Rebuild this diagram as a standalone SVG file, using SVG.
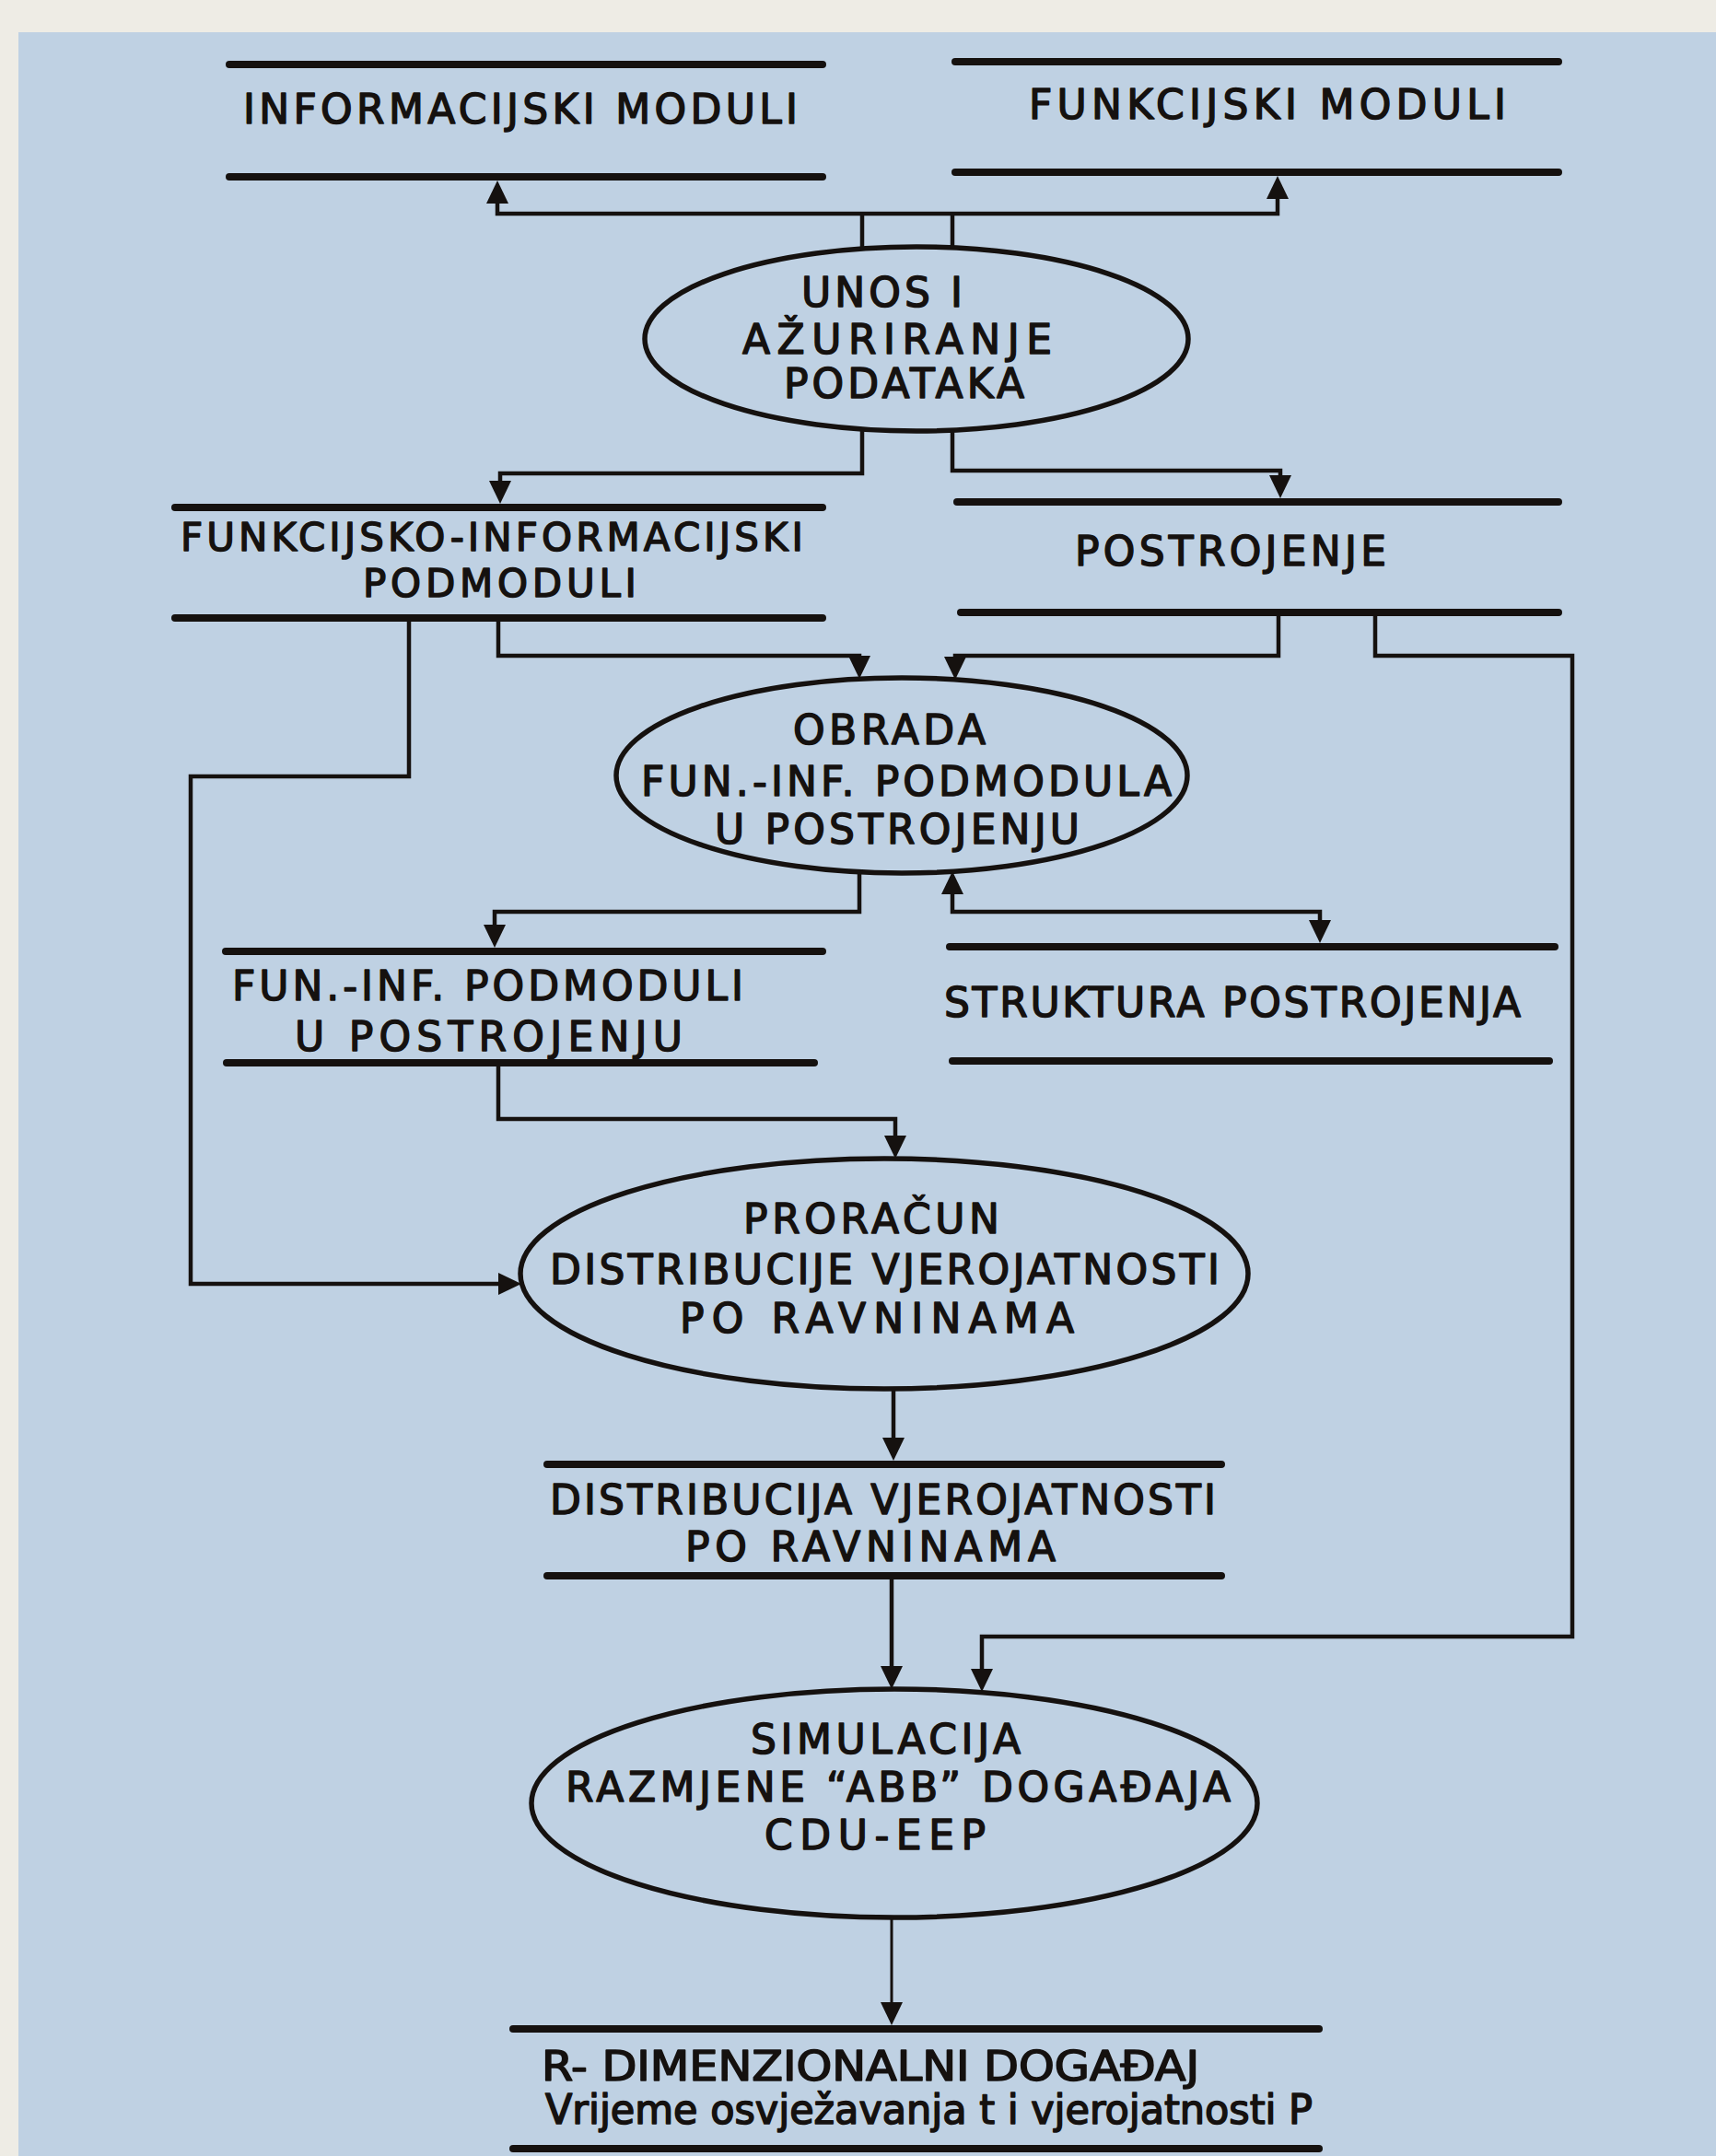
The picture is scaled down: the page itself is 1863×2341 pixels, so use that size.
<svg xmlns="http://www.w3.org/2000/svg" width="1863" height="2341" viewBox="0 0 1863 2341">
<style>
.bg{fill:#eeece5}
.panel{fill:#bfd1e3}
.st{stroke:#15110f;stroke-width:8;stroke-linecap:round;fill:none}
.el{stroke:#15110f;stroke-width:5.5;fill:none}
.t{font-family:"DejaVu Sans",sans-serif;font-size:44px;fill:#15110f;stroke:#15110f;stroke-width:1.5;stroke-linejoin:round}
.ts{font-size:42px}
.tc{font-family:"DejaVu Sans Condensed","DejaVu Sans",sans-serif;font-stretch:condensed;font-size:44px;fill:#15110f;stroke:#15110f;stroke-width:1.5;stroke-linejoin:round}
.c{stroke:#15110f;stroke-width:4.5;fill:none;stroke-linejoin:miter;stroke-linecap:butt}
.cs{stroke:#15110f;stroke-width:3;fill:none}
</style>
<defs>
<marker id="ah" viewBox="0 -13 28 26" refX="17" refY="0" markerWidth="28" markerHeight="26" markerUnits="userSpaceOnUse" orient="auto-start-reverse">
<path d="M0,-12 L25,0 L0,12 Z" fill="#15110f"/>
</marker>
</defs>
<rect class="bg" x="0" y="0" width="1863" height="2341"/>
<rect class="panel" x="20" y="35" width="1843" height="2306"/>

<g id="informacijski-moduli">
<line class="st" x1="249" y1="70" x2="893" y2="70"/>
<line class="st" x1="249" y1="192" x2="893" y2="192"/>
<text class="t" x="264" y="134" textLength="602" lengthAdjust="spacing">INFORMACIJSKI MODULI</text>
</g>

<g id="funkcijski-moduli">
<line class="st" x1="1037" y1="67" x2="1692" y2="67"/>
<line class="st" x1="1037" y1="187" x2="1692" y2="187"/>
<text class="t" x="1117" y="129" textLength="518" lengthAdjust="spacing">FUNKCIJSKI MODULI</text>
</g>

<g id="unos">
<ellipse class="el" cx="995" cy="368" rx="295" ry="100"/>
<text class="t" x="870" y="333" textLength="175" lengthAdjust="spacing">UNOS I</text>
<text class="t" x="806" y="384" textLength="336" lengthAdjust="spacing">AŽURIRANJE</text>
<text class="t" x="851" y="432" textLength="261" lengthAdjust="spacing">PODATAKA</text>
</g>

<g id="fun-inf-podmoduli">
<line class="st" x1="190" y1="551" x2="893" y2="551"/>
<line class="st" x1="190" y1="671" x2="893" y2="671"/>
<text class="t ts" x="196" y="598" textLength="676" lengthAdjust="spacing">FUNKCIJSKO-INFORMACIJSKI</text>
<text class="t ts" x="394" y="648" textLength="297" lengthAdjust="spacing">PODMODULI</text>
</g>

<g id="postrojenje">
<line class="st" x1="1039" y1="545" x2="1692" y2="545"/>
<line class="st" x1="1043" y1="665" x2="1692" y2="665"/>
<text class="t" x="1167" y="614" textLength="338" lengthAdjust="spacing">POSTROJENJE</text>
</g>

<g id="obrada">
<ellipse class="el" cx="979" cy="842" rx="310" ry="106"/>
<text class="t" x="861" y="808" textLength="209" lengthAdjust="spacing">OBRADA</text>
<text class="t" x="696" y="864" textLength="576" lengthAdjust="spacing">FUN.-INF. PODMODULA</text>
<text class="t" x="776" y="916" textLength="396" lengthAdjust="spacing">U POSTROJENJU</text>
</g>

<g id="fun-inf-u-postrojenju">
<line class="st" x1="245" y1="1033" x2="893" y2="1033"/>
<line class="st" x1="246" y1="1154" x2="884" y2="1154"/>
<text class="t" x="252" y="1086" textLength="555" lengthAdjust="spacing">FUN.-INF. PODMODULI</text>
<text class="t" x="320" y="1141" textLength="421" lengthAdjust="spacing">U POSTROJENJU</text>
</g>

<g id="struktura-postrojenja">
<line class="st" x1="1031" y1="1028" x2="1688" y2="1028"/>
<line class="st" x1="1034" y1="1152" x2="1682" y2="1152"/>
<text class="t" x="1025" y="1104" textLength="626" lengthAdjust="spacing">STRUKTURA POSTROJENJA</text>
</g>

<g id="proracun">
<ellipse class="el" cx="960" cy="1383" rx="395" ry="125"/>
<text class="t" x="807" y="1339" textLength="278" lengthAdjust="spacing">PRORAČUN</text>
<text class="t" x="597" y="1394" textLength="727" lengthAdjust="spacing">DISTRIBUCIJE VJEROJATNOSTI</text>
<text class="t" x="738" y="1447" textLength="428" lengthAdjust="spacing">PO RAVNINAMA</text>
</g>

<g id="distribucija">
<line class="st" x1="594" y1="1590" x2="1326" y2="1590"/>
<line class="st" x1="594" y1="1711" x2="1326" y2="1711"/>
<text class="t" x="597" y="1644" textLength="723" lengthAdjust="spacing">DISTRIBUCIJA VJEROJATNOSTI</text>
<text class="t" x="744" y="1695" textLength="402" lengthAdjust="spacing">PO RAVNINAMA</text>
</g>

<g id="simulacija">
<ellipse class="el" cx="971" cy="1958" rx="394" ry="124"/>
<text class="t" x="815" y="1904" textLength="293" lengthAdjust="spacing">SIMULACIJA</text>
<text class="t" x="614" y="1956" textLength="722" lengthAdjust="spacing">RAZMJENE “ABB” DOGAĐAJA</text>
<text class="t" x="830" y="2008" textLength="240" lengthAdjust="spacing">CDU-EEP</text>
</g>

<g id="r-dimenzionalni">
<line class="st" x1="557" y1="2203" x2="1432" y2="2203"/>
<line class="st" x1="557" y1="2333" x2="1432" y2="2333"/>
<text class="tc" x="588" y="2259" textLength="714" lengthAdjust="spacingAndGlyphs">R- DIMENZIONALNI DOGAĐAJ</text>
<text class="tc" x="592" y="2306" textLength="833" lengthAdjust="spacingAndGlyphs">Vrijeme osvježavanja t i vjerojatnosti P</text>
</g>

<g id="connectors">
<path class="c" d="M540,204 V232 H1387 V199" marker-start="url(#ah)" marker-end="url(#ah)"/>
<path class="c" d="M936,270 V232"/>
<path class="c" d="M1034,269 V232"/>
<path class="c" d="M543,539 V514 H936 V466" marker-start="url(#ah)"/>
<path class="c" d="M1390,533 V511 H1034 V467" marker-start="url(#ah)"/>
<path class="c" d="M444,675 V843 H207 V1394 H558" marker-end="url(#ah)"/>
<path class="c" d="M541,675 V712 H933 V729" marker-end="url(#ah)"/>
<path class="c" d="M1388,669 V712 H1037 V730" marker-end="url(#ah)"/>
<path class="c" d="M1493,669 V712 H1707 V1777 H1066 V1829" marker-end="url(#ah)"/>
<path class="c" d="M933,947 V990 H537 V1021" marker-end="url(#ah)"/>
<path class="c" d="M1034,954 V990 H1433 V1016" marker-start="url(#ah)" marker-end="url(#ah)"/>
<path class="c" d="M541,1158 V1215 H972 V1250" marker-end="url(#ah)"/>
<path class="c" d="M970,1508 V1578" marker-end="url(#ah)"/>
<path class="c" d="M968,1715 V1826" marker-end="url(#ah)"/>
<path class="cs" d="M968,2082 V2191" marker-end="url(#ah)"/>
</g>
</svg>
